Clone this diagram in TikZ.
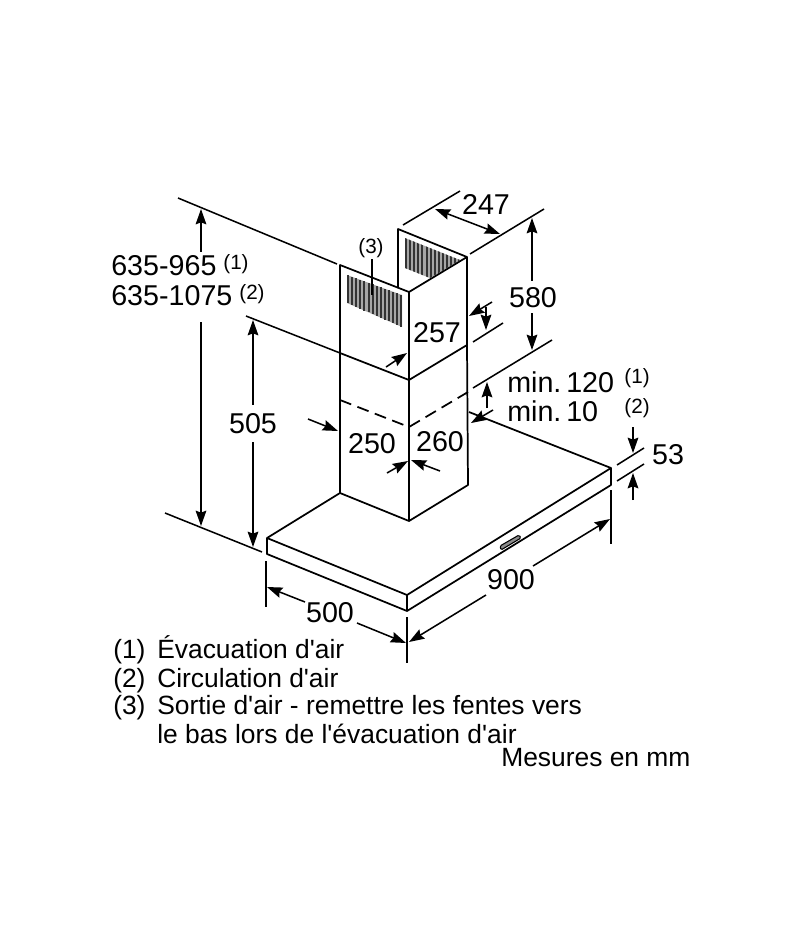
\documentclass[tikz,border=0pt]{standalone}
\usepackage{fontspec}
\setmainfont{Liberation Sans}
\usetikzlibrary{arrows.meta}
\tikzset{
  >={Stealth[length=11.5pt,width=8pt,inset=1.5pt]},
  body/.style={line width=1.3pt,line join=round},
  dim/.style={line width=1.15pt},
  dimtext/.style={font=\fontsize{21.5}{24}\selectfont,inner sep=0pt},
  smalltext/.style={font=\fontsize{15.5}{16}\selectfont,inner sep=0pt},
  legtext/.style={font=\fontsize{19.8}{22}\selectfont,inner sep=0pt,anchor=base west},
  slot/.style={line width=1.5pt,black!80},
}
\begin{document}
\begin{tikzpicture}[x=0.75pt,y=-0.75pt]
    \useasboundingbox (0,0) rectangle (800,950);

    % grilles
    \fill[black!35] (347,275)--(402,295)--(402,327)--(347,303)--cycle;
    \foreach \x in {348,352.1,...,402}
      \draw[slot] (\x,{275+(\x-347)*0.364})--(\x,{303+(\x-347)*0.436});
    \begin{scope}
      \clip (405,238)--(460,260)--(430,278)--(405,268)--cycle;
      \fill[black!35] (405,238) rectangle (460,278);
      \foreach \x in {406,410.1,...,460}
        \draw[slot] (\x,235)--(\x,280);
    \end{scope}

    % upper chimney
    \draw[body] (398,288)--(398,229)--(467,257)--(409,292);
    \draw[body] (340,353)--(340,265)--(409,292)--(409,380);
    \draw[body] (467,257)--(467,345);

    % lower chimney
    \draw[body] (340,353)--(409,380)--(467,345);
    \draw[body] (340,353)--(340,493)--(409,521)--(409,380);
    \draw[body] (467,345)--(468,485)--(409,521);
    \draw[body,dashed,dash pattern=on 9pt off 5pt] (340,400)--(409,427)--(468,392);

    % hood
    \draw[body] (340,493)--(267,538)--(407,595)--(611,468)--(469,412);
    \draw[body] (267,538)--(267,554)--(407,611)--(611,485)--(611,468);
    \draw[body] (407,595)--(407,611);
    \draw[line width=0.8pt,fill=black!45,rounded corners=1pt] (500,546)--(519,535)--(521,538)--(501,550)--cycle;

    % extension lines
    \draw[dim] (178,198)--(337,264);
    \draw[dim] (246,316)--(340,353);
    \draw[dim] (165,513)--(262,552);
    \draw[dim] (403,225)--(460,191);
    \draw[dim] (470,254)--(544,209);
    \draw[dim] (473,388)--(552,340);
    \draw[dim] (473,342)--(503,323);
    \draw[dim] (617,465)--(644,448);
    \draw[dim] (617,481)--(644,464);
    \draw[dim] (611,490)--(611,544);
    \draw[dim] (407,617)--(407,663);
    \draw[dim] (266,561)--(266,607);
    \draw[dim] (372,259)--(372,295);

    % dimensions
    \draw[dim,<-] (201,209)--(201,252);
    \draw[dim,->] (201,322)--(201,526);
    \draw[dim,<-] (253,320)--(253,405);
    \draw[dim,->] (253,442)--(253,547);
    \draw[dim,<->] (435,209)--(500,234);
    \draw[dim,<-] (532,218)--(532,281);
    \draw[dim,->] (532,313)--(532,350);
    \draw[dim,->] (386,367)--(407,353);
    \draw[dim,->] (492,302)--(469,316);
    \draw[dim,->] (486,307)--(486,330);
    \draw[dim,->] (487,408)--(487,382);
    \draw[dim,->] (493,410)--(471,423);
    \draw[dim,->] (633,427)--(633,453);
    \draw[dim,->] (633,500)--(633,473);
    \draw[dim,->] (533,566)--(610,519);
    \draw[dim,->] (486,595)--(409,642);
    \draw[dim,->] (305,602)--(267,587);
    \draw[dim,->] (357,623)--(406,643);
    \draw[dim,->] (308,419)--(338,431);
    \draw[dim,->] (387,473)--(408,461);
    \draw[dim,->] (440,471)--(411,460);

    % labels
    \node[dimtext,anchor=west] (ducted) at (111,266) {635-965};
    \node[dimtext,anchor=west] (recirc) at (111,296) {635-1075};
    \node[smalltext] (ductednote) at (236,264) {(1)};
    \node[smalltext] (recircnote) at (252,294) {(2)};
    \node[dimtext] (height) at (253,424) {505};
    \node[smalltext] (outlet) at (371,248) {(3)};
    \node[dimtext] (depthtop) at (486,204) {247};
    \node[dimtext] (chimney) at (533,298) {580};
    \node[dimtext] (widthtop) at (437,333) {257};
    \node[dimtext] (depthlow) at (372,444) {250};
    \node[dimtext] (widthlow) at (440,442) {260};
    \node[dimtext,anchor=west] (gapone) at (507,382) {min.\kern0.17em 120};
    \node[dimtext,anchor=west] (gaptwo) at (507,411) {min.\kern0.17em 10};
    \node[smalltext] (gaponenote) at (637,378) {(1)};
    \node[smalltext] (gaptwonote) at (637,408) {(2)};
    \node[dimtext] (thick) at (668,455) {53};
    \node[dimtext] (width) at (511,580) {900};
    \node[dimtext] (depth) at (330,613) {500};

    % legend
    \node[legtext] (keyone) at (113,658.5) {(1)};
    \node[legtext] (keytwo) at (113,687) {(2)};
    \node[legtext] (keythree) at (113,714.5) {(3)};
    \node[legtext] (textone) at (157,658.5) {Évacuation d\textquotesingle air};
    \node[legtext] (texttwo) at (157,687) {Circulation d\textquotesingle air};
    \node[legtext] (textthree) at (157,714.5) {Sortie d\textquotesingle air - remettre les fentes vers};
    \node[legtext] (textfour) at (157,743) {le bas lors de l\textquotesingle évacuation d\textquotesingle air};
    \node[legtext] (units) at (501,766) {Mesures en mm};
\end{tikzpicture}
\end{document}
